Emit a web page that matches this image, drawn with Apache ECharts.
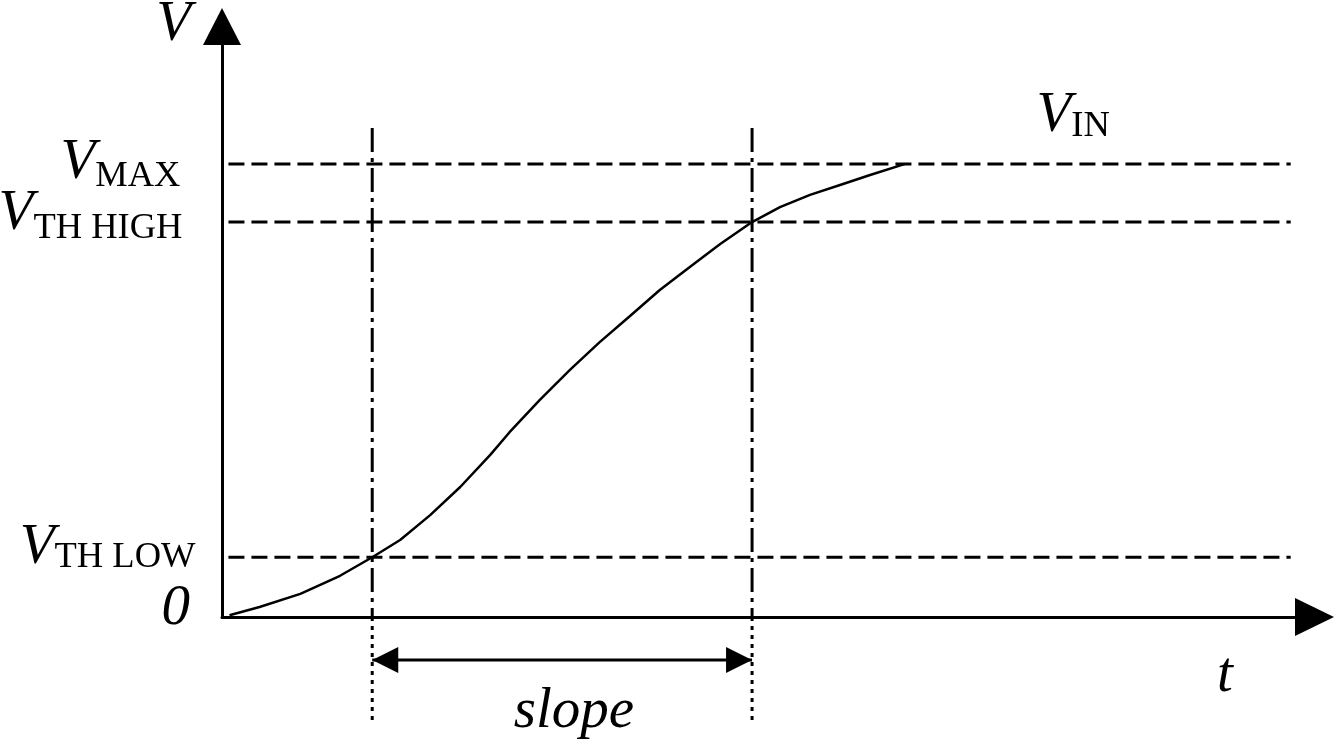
<!DOCTYPE html>
<html><head><meta charset="utf-8">
<script src="https://cdn.jsdelivr.net/npm/echarts@6/dist/echarts.min.js"></script>
<style>html,body{margin:0;padding:0;background:#fff}#c{width:1334px;height:740px}</style>
</head><body><div id="c"></div>
<script>
// ---- data (t in arbitrary units 0..100, V normalised to VMAX = 1) ----
const curveT = [0.7, 3.5, 7.3, 11.0, 14.0, 16.6, 19.4, 22.2, 25.0, 26.8, 29.6, 32.4, 35.2, 38.0, 40.8, 43.6, 46.4, 49.4, 52.0, 54.8, 57.6, 60.4, 63.6];
const curveV = [0.004, 0.022, 0.051, 0.091, 0.132, 0.170, 0.225, 0.287, 0.358, 0.408, 0.479, 0.545, 0.607, 0.664, 0.722, 0.773, 0.823, 0.872, 0.905, 0.932, 0.954, 0.976, 1.0];
const levelKeys = ['low', 'high', 'max'];
const levelValues = [0.132, 0.872, 1.0];
const zeroValue = [0];
const slopeTimes = [14.0, 49.4];
const tRange = [0, 100];
const vRange = [0, 1.263];
const dashSpan = [0.6, 99.6];
const markerTop = 1.08;
const markerBottom = -0.232;
const arrowLevel = -0.095;
const slopeLabelPoint = [32.8, -0.21];
const seriesName = 'VIN';

const FONT = 'Liberation Serif';
const K = '#000';
const MAIN = 57, SUB = 36.5;
const vTok = (pt, pr) => ({fontFamily: FONT, fontStyle: 'italic', fontSize: MAIN, lineHeight: MAIN, verticalAlign: 'top', color: K, padding: [pt, pr || 0, 0, 0]});
const sTok = (pt, pr) => ({fontFamily: FONT, fontSize: SUB, lineHeight: SUB, verticalAlign: 'top', color: K, padding: [pt, pr, 0, 0]});

const labelText = {
  max: '{v|V}{s|MAX}',
  high: '{v|V}{s|TH HIGH}',
  low: '{v|V}{s|TH LOW}'
};
const labelRich = {
  max: {v: vTok(27), s: sTok(51, 15)},
  high: {v: vTok(20), s: sTok(45, 13)},
  low: {v: vTok(19), s: sTok(39, 0)}
};

const chart = echarts.init(document.getElementById('c'), null, {renderer: 'canvas'});

const curveData = curveT.map((t, i) => [t, curveV[i]]);
const series = [];

// horizontal dashed level lines, each carrying its label at its left end
levelValues.forEach((v, i) => {
  const key = levelKeys[i];
  series.push({
    type: 'line', silent: true, z: 1,
    symbol: 'circle', symbolSize: 0, showSymbol: true,
    data: [
      {value: [dashSpan[0], v], label: {show: true, position: 'left', distance: 33, verticalAlign: 'bottom', formatter: labelText[key], rich: labelRich[key]}},
      {value: [dashSpan[1], v]}
    ],
    itemStyle: {color: K},
    lineStyle: {color: K, width: 3, type: [16, 7]}
  });
});

// vertical markers: dash-dot above axis, dotted below
slopeTimes.forEach(t => {
  series.push({
    type: 'line', silent: true, symbol: 'none', z: 2,
    data: [[t, markerTop], [t, 0]],
    lineStyle: {color: K, width: 3, type: [24, 6, 4, 6]}
  });
  series.push({
    type: 'line', silent: true, symbol: 'none', clip: false, z: 2,
    data: [[t, 0], [t, markerBottom]],
    lineStyle: {color: K, width: 3, type: [4, 5]}
  });
});

// the signal
series.push({
  name: seriesName, type: 'line', silent: true, symbol: 'none', z: 5,
  data: curveData,
  lineStyle: {color: K, width: 2.5},
  endLabel: {
    show: true, offset: [124, -48],
    formatter: '{v|V}{s|IN}',
    rich: {v: vTok(0), s: sTok(20, 0)}
  }
});

// double arrow for the slope
series.push({
  type: 'line', silent: true, clip: false, z: 4,
  symbol: 'triangle', symbolSize: [26, 26], showSymbol: true,
  data: [
    {value: [slopeTimes[0], arrowLevel], symbolRotate: 90, symbolOffset: [13, 0]},
    {value: [slopeTimes[1], arrowLevel], symbolRotate: -90, symbolOffset: [-13, 0]}
  ],
  itemStyle: {color: K, opacity: 1},
  lineStyle: {color: K, width: 3}
});

// "slope" caption
series.push({
  type: 'scatter', silent: true, clip: false, symbolSize: 0,
  data: [slopeLabelPoint],
  itemStyle: {opacity: 1, color: K},
  label: {show: true, position: 'inside', formatter: 'slope', fontFamily: FONT, fontStyle: 'italic', fontSize: MAIN, color: K, opacity: 1, textBorderWidth: 0}
});

chart.setOption({
  animation: false,
  backgroundColor: '#fff',
  grid: {left: 222, right: 39, top: 45, bottom: 123, containLabel: false, outerBoundsMode: 'none'},
  xAxis: {
    type: 'value', min: tRange[0], max: tRange[1],
    splitLine: {show: false}, axisTick: {show: false}, axisLabel: {show: false},
    axisLine: {onZero: false, lineStyle: {color: K, width: 3}, symbol: ['none', 'triangle'], symbolSize: [38, 39], symbolOffset: [0, 19.5]},
    name: 't', nameLocation: 'end', nameGap: -70,
    nameTextStyle: {fontFamily: FONT, fontStyle: 'italic', fontSize: MAIN, lineHeight: MAIN, color: K, align: 'center', verticalAlign: 'top', padding: [31, 0, 0, 0]}
  },
  yAxis: {
    type: 'value', min: vRange[0], max: vRange[1],
    splitLine: {show: false}, axisTick: {show: false},
    axisLine: {onZero: false, lineStyle: {color: K, width: 3}, symbol: ['none', 'triangle'], symbolSize: [38, 37], symbolOffset: [0, 18.5]},
    axisLabel: {
      show: true, margin: 27, align: 'right', verticalAlign: 'bottom',
      hideOverlap: false, showMinLabel: true,
      customValues: zeroValue,
      formatter: '{z|0}',
      rich: {z: vTok(21, 5)}
    },
    name: 'V', nameLocation: 'end', nameGap: 20,
    nameTextStyle: {fontFamily: FONT, fontStyle: 'italic', fontSize: MAIN, lineHeight: MAIN, color: K, align: 'right', verticalAlign: 'middle', padding: [0, 31, 0, 0]}
  },
  series: series
});
</script>
</body></html>
